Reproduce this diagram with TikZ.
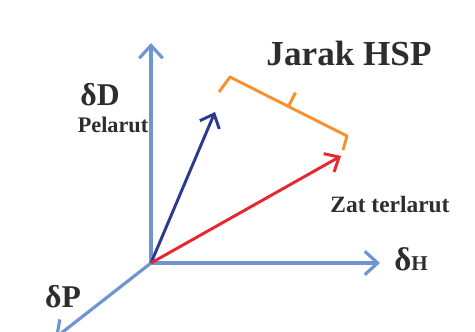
\documentclass[tikz,border=0pt]{standalone}
\usepackage{fontspec}
\setmainfont{Liberation Serif}
\usepackage{xcolor}
\usepackage{tikz}
\usetikzlibrary{arrows.meta,positioning,calc}
\definecolor{axisblue}{RGB}{111,148,210}
\definecolor{solvblue}{RGB}{43,57,144}
\definecolor{soluteRed}{RGB}{232,38,47}
\definecolor{hspOrange}{RGB}{245,146,47}
\definecolor{labelgray}{RGB}{45,45,45}
\tikzstyle{axis} = [line width=2.7pt,axisblue,-{Straight Barb[length=11pt,width=20pt]}]
\tikzstyle{vec} = [line width=2.5pt,-{Straight Barb[length=10pt,width=18pt]}]
\tikzstyle{bracket} = [line width=2.5pt,hspOrange,line join=round]
\tikzstyle{lbl} = [text=labelgray,inner sep=0pt,anchor=base]

\begin{document}
\begin{tikzpicture}[x=0.03cm, y=-0.03cm]
    \clip (0,0) rectangle (475,331);
    \coordinate (o) at (151,263);
    \coordinate (dDtip) at (151,43);
    \coordinate (dHtip) at (380,263);
    \coordinate (dPtip) at (55,338);
    \coordinate (pelTip) at (215,112);
    \coordinate (zatTip) at (341,156);
    \draw[axis] (o) -- (dDtip);
    \draw[axis] (o) -- (dHtip);
    \draw[axis] (o) -- (dPtip);
    \draw[vec,solvblue] (o) -- (pelTip);
    \draw[vec,soluteRed] (o) -- (zatTip);
    % kurung jarak HSP
    \coordinate (b1) at (219,92);
    \coordinate (b2) at (230,77);
    \coordinate (b3) at (347,136);
    \coordinate (b4) at (343,150);
    \coordinate (tickBase) at ($(b2)!0.5!(b3)$);
    \draw[bracket] (b1) -- (b2) -- (b3) -- (b4);
    \draw[bracket] (tickBase) -- ++(7,-14);
    \node[lbl,font=\fontsize{30}{34}\selectfont\bfseries] (hsp) at (349,65) {Jarak HSP};
    \node[lbl,font=\fontsize{27}{30}\selectfont\bfseries] (dD) at (100,105) {δD};
    \node[lbl,font=\fontsize{19}{22}\selectfont\bfseries] (pelarut) at (113,132) {Pelarut};
    \node[lbl,font=\fontsize{20}{24}\selectfont\bfseries] (zat) at (390,212) {Zat terlarut};
    \node[lbl,font=\bfseries] (dH) at (411,270) {{\fontsize{28}{30}\selectfont δ}{\fontsize{18}{22}\selectfont H}};
    \node[lbl,font=\fontsize{27}{30}\selectfont\bfseries] (dP) at (63,307) {δP};
\end{tikzpicture}
\end{document}
